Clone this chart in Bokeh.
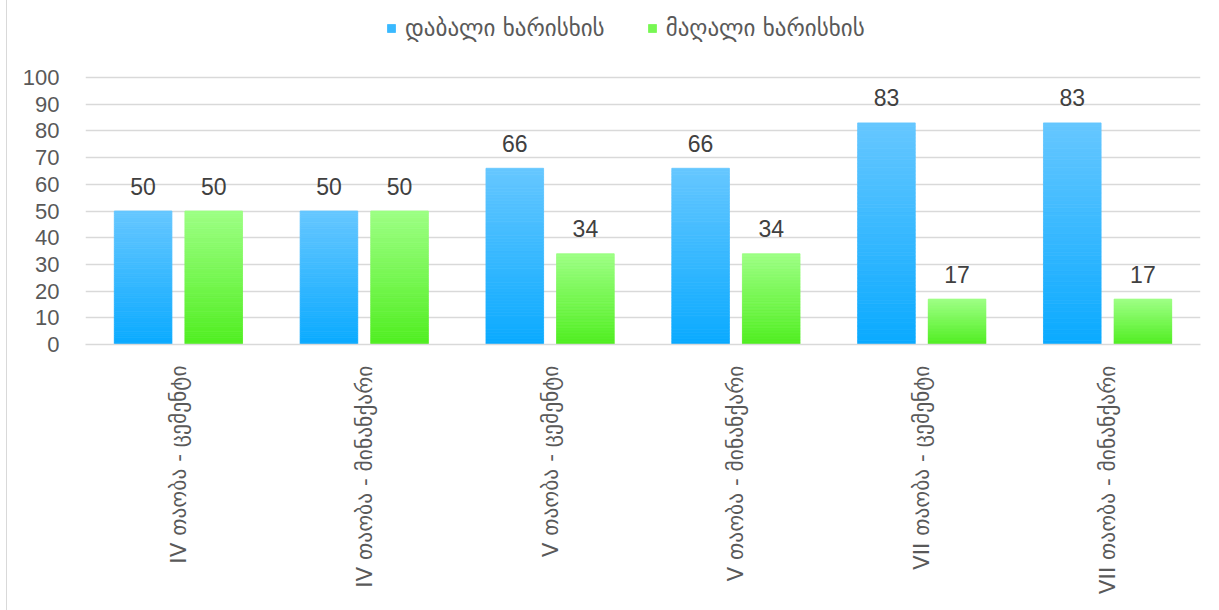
import math
from bokeh.plotting import figure
from bokeh.models import Range1d, FactorRange, Legend, LegendItem, ColumnDataSource, FixedTicker
from bokeh.transform import dodge
from bokeh.core.properties import value
from bokeh.embed import file_html
from bokeh.resources import INLINE

# ---- data ----
categories = [
    "IV თაობა - ცემენტი",
    "IV თაობა - მინანქარი",
    "V თაობა - ცემენტი",
    "V თაობა - მინანქარი",
    "VII თაობა - ცემენტი",
    "VII თაობა - მინანქარი",
]
series_names = ["დაბალი ხარისხის", "მაღალი ხარისხის"]
low_quality = [50, 50, 66, 66, 83, 83]
high_quality = [50, 50, 34, 34, 17, 17]
y_ticks = [0, 10, 20, 30, 40, 50, 60, 70, 80, 90, 100]

# ---- style ----
FONT_NUM = "Liberation Sans"
FONT_GEO = "DejaVu Sans"
TEXT_GREY = "#595959"
LABEL_DARK = "#404040"
GRID = "#d9d9d9"
blue_top, blue_bottom = (102, 199, 255), (10, 170, 255)
green_top, green_bottom = (157, 255, 132), (80, 238, 32)
OFFSET = 0.19
BAR_W = 0.31
N_SEG = 60
Y_TOP = 126.6   # frame extends above the 100 gridline to host the legend

p = figure(
    width=1212, height=610,
    x_range=FactorRange(*categories, range_padding=0),
    y_range=Range1d(0, Y_TOP),
    output_backend="svg", toolbar_location=None,
    min_border_left=78, min_border_right=19,
    min_border_top=6, min_border_bottom=266,
)
p.margin = (0, 0, 0, 6)
p.styles = {"border-left": "1px solid #d9d9d9"}
p.outline_line_color = None
p.background_fill_color = "white"
p.border_fill_color = "white"

# grid / axes
p.xgrid.grid_line_color = None
p.ygrid.grid_line_color = GRID
p.ygrid.grid_line_width = 1.3
p.yaxis.ticker = FixedTicker(ticks=y_ticks)
p.yaxis.axis_line_color = None
p.yaxis.major_tick_line_color = None
p.yaxis.minor_tick_line_color = None
p.yaxis.major_label_text_font = FONT_NUM
p.yaxis.major_label_text_font_size = "22px"
p.yaxis.major_label_text_color = TEXT_GREY
p.yaxis.major_label_standoff = 20

p.xaxis.axis_line_color = GRID
p.xaxis.axis_line_width = 1.3
p.xaxis.major_tick_line_color = None
p.xaxis.minor_tick_line_color = None
p.xaxis.major_label_orientation = math.pi / 2
p.xaxis.major_label_text_font = FONT_GEO
p.xaxis.major_label_text_font_size = "21.5px"
p.xaxis.major_label_text_color = TEXT_GREY
p.xaxis.major_label_standoff = 15


def mix(c1, c2, t):
    r = [round(a + (b - a) * t) for a, b in zip(c1, c2)]
    return "#%02x%02x%02x" % tuple(r)


def gradient_source(vals, top_c, bottom_c):
    xs, bots, tops, cols = [], [], [], []
    for cat, v in zip(categories, vals):
        for i in range(N_SEG):
            xs.append(cat)
            bots.append(v * i / N_SEG)
            tops.append(v * (i + 1) / N_SEG)
            cols.append(mix(bottom_c, top_c, (i + 0.5) / N_SEG))
    return ColumnDataSource(dict(x=xs, bottom=bots, top=tops, color=cols))


bar_renderers = []
for vals, off, tc, bc in [(low_quality, -OFFSET, blue_top, blue_bottom),
                           (high_quality, OFFSET, green_top, green_bottom)]:
    src = gradient_source(vals, tc, bc)
    r = p.vbar(x=dodge("x", off, range=p.x_range), bottom="bottom", top="top", width=BAR_W,
               source=src, fill_color="color", line_color="color", line_width=0.8)
    bar_renderers.append(r)
    lab = ColumnDataSource(dict(x=categories, y=vals, t=[str(v) for v in vals]))
    p.text(x=dodge("x", off, range=p.x_range), y="y", text="t", source=lab,
           text_align="center", text_baseline="alphabetic", y_offset=-25,
           text_font=value(FONT_NUM), text_font_size="23px", text_color=LABEL_DARK)

legend = Legend(items=[LegendItem(label=series_names[0], renderers=[bar_renderers[0]], index=N_SEG // 2),
                       LegendItem(label=series_names[1], renderers=[bar_renderers[1]], index=N_SEG // 2)],
                orientation="horizontal", location=(301, 303),
                label_text_font=FONT_GEO, label_text_font_size="23px",
                label_text_color=TEXT_GREY, glyph_width=10, glyph_height=10,
                label_standoff=9, spacing=42, border_line_color=None,
                background_fill_alpha=0, padding=4, margin=0)
p.add_layout(legend, "center")

open("out.html", "w").write(file_html(p, INLINE))
